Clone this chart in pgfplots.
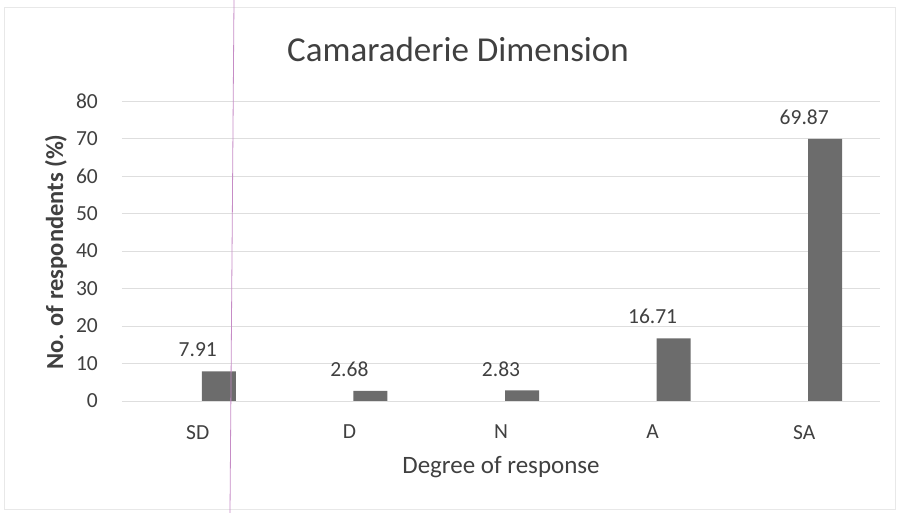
\documentclass[border=0pt]{standalone}
\usepackage{pgfplots}
\pgfplotsset{compat=1.18}
\usepackage{fontspec}
\setmainfont{Carlito}

\definecolor{txt}{HTML}{404040}
\definecolor{barfill}{HTML}{6C6C6C}
\definecolor{gridc}{HTML}{DEDEDE}

\newcommand{\tickfont}{\fontsize{21.5bp}{25bp}\selectfont}

\begin{document}
\begin{tikzpicture}[x=1bp,y=1bp]
\useasboundingbox (-122,-112) rectangle (777,401);
% faint chart-area frame
\draw[gray!18, line width=1bp] (-117,-109) rectangle (773,393);
\begin{axis}[
  scale only axis, width=758bp, height=300bp,
  xmin=-0.5, xmax=4.5, ymin=0, ymax=80,
  ytick={0,10,...,80},
  xtick={0,...,4}, xticklabels={SD,D,N,A,SA},
  ymajorgrids, grid style={gridc, line width=0.9bp},
  axis line style={draw=none},
  major tick length=0pt,
  /pgf/number format/assume math mode=true,
  tick label style={font=\tickfont, text=txt},
  yticklabel style={anchor=east, inner sep=0pt, xshift=-24bp},
  xticklabel style={anchor=north, inner sep=0pt, yshift=-24bp},
  xlabel={Degree of response},
  xlabel style={at={(axis description cs:0.5,0)}, anchor=center, yshift=-66bp,
    font=\fontsize{25bp}{30bp}\selectfont, text=txt},
  clip=false,
]
\addplot[ybar, bar width=34bp, bar shift=21bp, fill=barfill, draw=none,
  nodes near coords={\pgfmathprintnumber[fixed,precision=2,fixed zerofill]{\pgfplotspointmeta}},
  nodes near coords style={font=\tickfont, text=txt, anchor=south, inner sep=0pt, yshift=14bp}]
  coordinates {(0,7.91) (1,2.68) (2,2.83) (3,16.71) (4,69.87)};
\end{axis}
\node[rotate=90, anchor=center, font=\fontsize{24.5bp}{29bp}\selectfont\bfseries, text=txt]
  at (-66,149) {No. of respondents (\%)};
\node[anchor=base, font=\fontsize{35bp}{42bp}\selectfont, text=txt] at (336,339) {Camaraderie Dimension};
% thin violet line running down the page
\draw[violet!45, line width=0.8bp] (112,401) -- (108,-112);
\end{tikzpicture}
\end{document}
